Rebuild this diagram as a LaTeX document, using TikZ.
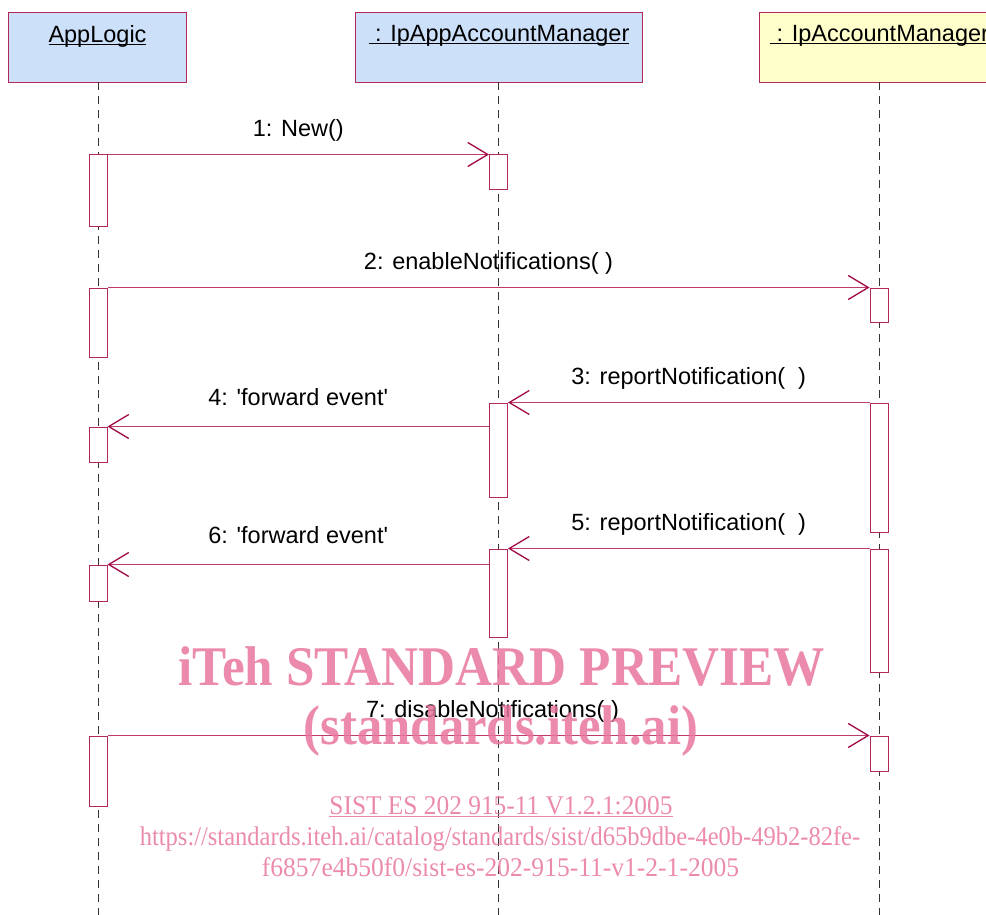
\documentclass[tikz,border=0pt]{standalone}
\usepackage{fontspec}
\setmainfont{Liberation Sans}[Ligatures=TeXOff]
\newfontfamily\wmfont{Liberation Serif}
\usetikzlibrary{arrows.meta}
% underline with a chosen thickness
\newcommand\ulbox[2][1.2pt]{\setbox0\hbox{#2}\leavevmode\rlap{\rule[-3pt]{\wd0}{#1}}\box0}
\definecolor{edge}{RGB}{178,40,90}
\definecolor{msg}{RGB}{190,60,105}
\definecolor{tipc}{RGB}{160,10,70}
\definecolor{headblue}{RGB}{204,224,250}
\definecolor{headyellow}{RGB}{255,255,204}
\definecolor{lifegray}{RGB}{50,50,50}
\definecolor{wmpink}{RGB}{232,118,158}
\tikzset{
  lbl/.style={font=\fontsize{23.5}{27}\selectfont, text=black},
  head/.style={draw=edge, line width=1pt, minimum width=#1, minimum height=70pt,
    inner sep=0pt, anchor=north west},
  headtext/.style={lbl, anchor=north, yshift=-13pt, inner sep=0pt},
  life/.style={draw=lifegray, line width=0.9pt, dash pattern=on 8pt off 6pt},
  act/.style={draw=edge, fill=white, line width=1pt, minimum width=18pt, inner sep=0pt},
  msgline/.style={draw=msg, line width=1.1pt,
    -{Straight Barb[length=20pt, width=24pt, line width=1.3pt, color=tipc]}},
  msglbl/.style={lbl, anchor=base, inner sep=0pt},
  wm/.style={text=wmpink, opacity=0.85, inner sep=0pt},
  wmsmall/.style={wm, anchor=base, font=\wmfont\fontsize{27}{30}\selectfont}
}
\begin{document}
\begin{tikzpicture}[x=1pt, y=-1pt]
\useasboundingbox (0,0) rectangle (986,915);

% object heads
\node[head=178pt, fill=headblue] (h1) at (8,12) {};
\node[head=287pt, fill=headblue] (h2) at (355,12) {};
\node[head=240pt, fill=headyellow] (h3) at (759,12) {};
\node[headtext] at (h1.north) {\ulbox{AppLogic}};
\node[headtext] at (h2.north) {\ulbox{\ : IpAppAccountManager}};
\node[headtext] at (h3.north) {\ulbox{\ : IpAccountManager}};

% lifelines
\coordinate (e1) at (98,915);
\coordinate (e2) at (498,915);
\coordinate (e3) at (879,915);
\draw[life] (98,82) -- (e1);
\draw[life] (498,82) -- (e2);
\draw[life] (879,82) -- (e3);

% activations: AppLogic
\node[act, minimum height=71pt] (a1) at (98,190.5) {};
\node[act, minimum height=69pt] (a2) at (98,322.5) {};
\node[act, minimum height=35pt] (a3) at (98,444.5) {};
\node[act, minimum height=36pt] (a4) at (98,583) {};
\node[act, minimum height=70pt] (a5) at (98,771) {};
% activations: IpAppAccountManager
\node[act, minimum height=35pt] (b1) at (498.5,172.5) {};
\node[act, minimum height=94pt] (b2) at (498.5,450) {};
\node[act, minimum height=88pt] (b3) at (498.5,593) {};
% activations: IpAccountManager
\node[act, minimum height=34pt] (c1) at (879,305) {};
\node[act, minimum height=129pt] (c2) at (879,467.5) {};
\node[act, minimum height=123pt] (c3) at (879,610.5) {};
\node[act, minimum height=35pt] (c4) at (879,753.5) {};

% messages
\draw[msgline] (a1.north east) -- node[msglbl, yshift=18pt] {1: New()} (b1.north west);
\draw[msgline] (a2.north east) -- node[msglbl, yshift=18pt] {2: enableNotifications( )} (c1.north west);
\draw[msgline] (c2.north west) -- node[msglbl, yshift=18pt] {3: reportNotification(\ \ )} (b2.north east);
\draw[msgline] (b2.west |- a3.north) -- node[msglbl, yshift=21pt] {4: 'forward event'} (a3.north east);
\draw[msgline] (c3.north west) -- node[msglbl, yshift=18pt] {5: reportNotification(\ \ )} (b3.north east);
\draw[msgline] (b3.west |- a4.north) -- node[msglbl, yshift=21pt] {6: 'forward event'} (a4.north east);
\draw[msgline] (a5.north east) -- node[msglbl, yshift=18pt, xshift=4pt] {7: disableNotifications( )} (c4.north west);

% watermark
\node[wm, font=\wmfont\bfseries\fontsize{56}{60}\selectfont] (w1) at (501.5,666)
  {\scalebox{0.915}[1]{iTeh STANDARD PREVIEW}};
\node[wm, font=\wmfont\bfseries\fontsize{56}{60}\selectfont] (w2) at (501,731)
  {\scalebox{0.905}[1]{(standards.iteh.ai)}};
\node[wmsmall] (w3) at (501,814)
  {\scalebox{0.94}[1]{\ulbox[1pt]{SIST ES 202 915-11 V1.2.1:2005}}};
\node[wmsmall] (w4) at (500,845)
  {\scalebox{0.908}[1]{https://standards.iteh.ai/catalog/standards/sist/d65b9dbe-4e0b-49b2-82fe-}};
\node[wmsmall] (w5) at (500.5,876)
  {\scalebox{0.946}[1]{f6857e4b50f0/sist-es-202-915-11-v1-2-1-2005}};
\end{tikzpicture}
\end{document}
